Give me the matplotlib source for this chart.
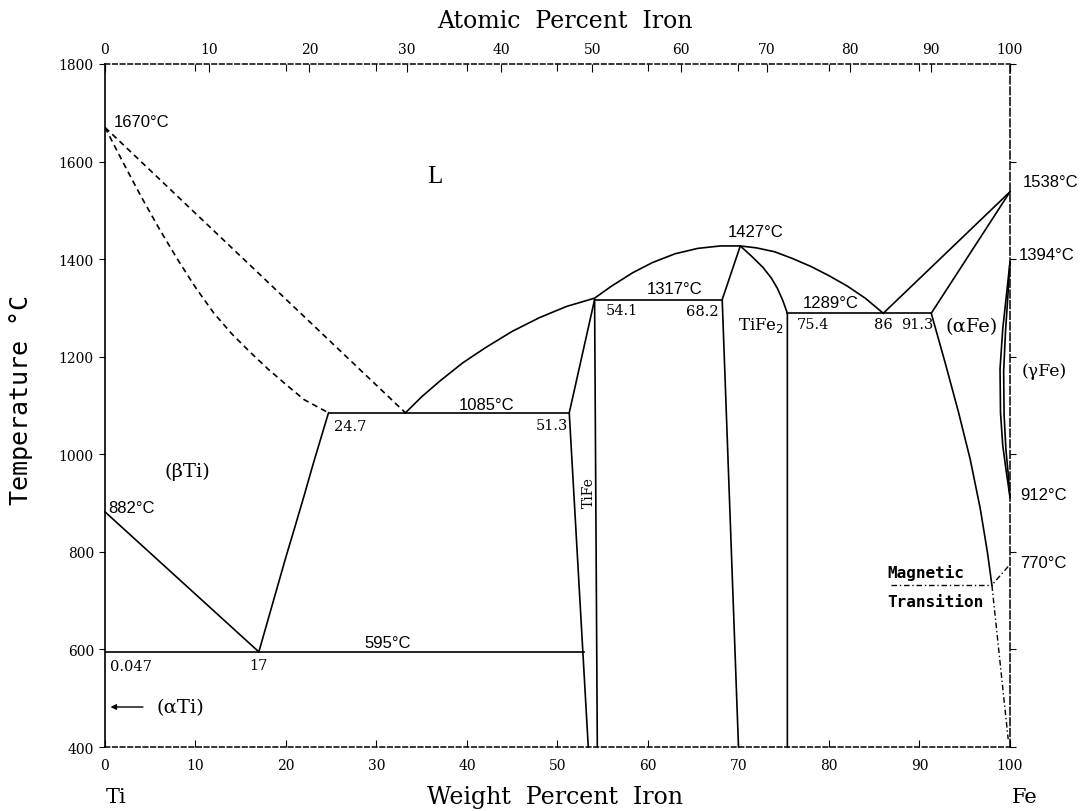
import numpy as np
import matplotlib.pyplot as plt

# Ti-Fe phase diagram, x = weight percent Fe, y = temperature (deg C)
liq_ti_x = [0, 33.2]
liq_ti_t = [1670, 1085]
sol_ti_x = [0, 2, 4, 6, 8, 10, 12, 14, 16, 18, 20, 22, 24.7]
sol_ti_t = [1670, 1598, 1528, 1462, 1400, 1342, 1290, 1247, 1210, 1175, 1143, 1112, 1085]
beta_solvus_x = [17, 18, 19, 20, 21, 22, 23, 24, 24.7]
beta_solvus_t = [595, 660, 725, 790, 852, 915, 980, 1042, 1085]
alpha_beta_x = [0, 17]
alpha_beta_t = [882, 595]
liq_mid_x = [33.2, 35, 37, 39.5, 42, 45, 48, 51, 54.1, 56, 58.3, 60.5, 63, 65.5, 68, 70.2,
             72, 74, 76, 78, 80, 82, 84, 86]
liq_mid_t = [1085, 1118, 1150, 1187, 1218, 1252, 1280, 1303, 1320, 1345, 1372, 1393, 1411, 1422,
             1427, 1427, 1423, 1415, 1401, 1385, 1366, 1345, 1320, 1289]
tife_left_x = [53.4, 51.3, 54.1]
tife_left_t = [400, 1085, 1317]
tife_right_x = [54.1, 54.4]
tife_right_t = [1317, 400]
tife2_left_x = [70.0, 68.2, 70.2]
tife2_left_t = [400, 1317, 1427]
tife2_right_x = [70.2, 71.5, 72.7, 73.6, 74.3, 74.9, 75.4, 75.4]
tife2_right_t = [1427, 1405, 1383, 1362, 1340, 1315, 1289, 400]
liq_fe_x = [86, 100]
liq_fe_t = [1289, 1538]
sol_fe_x = [91.3, 100]
sol_fe_t = [1289, 1538]
solvus_fe_x = [91.3, 92.8, 94.3, 95.6, 96.7, 97.5, 98.0]
solvus_fe_t = [1289, 1190, 1087, 990, 890, 800, 732]
gamma_out_x = [100, 99.6, 99.2, 98.9, 98.95, 99.2, 99.6, 100]
gamma_out_t = [1394, 1325, 1257, 1175, 1086, 1018, 963, 912]
gamma_in_x = [100, 99.75, 99.5, 99.3, 99.35, 99.55, 99.8, 100]
gamma_in_t = [1394, 1320, 1250, 1170, 1080, 1010, 960, 912]
magnetic_x = [99.8, 98.0, 99.8]
magnetic_t = [770, 732, 416]
magnetic_key_x = [86.8, 98.0]
magnetic_key_t = [732, 732]

# invariant isotherms: (temperature, x start, x end)
isotherms = [(1085, 24.7, 51.3), (1317, 54.1, 68.2), (1289, 75.4, 91.3), (595, 0.047, 52.9)]

y_ticks = [400, 600, 800, 1000, 1200, 1400, 1600, 1800]
x_ticks = [0, 10, 20, 30, 40, 50, 60, 70, 80, 90, 100]
at_ticks = [0, 10, 20, 30, 40, 50, 60, 70, 80, 90, 100]

M_FE, M_TI = 55.845, 47.867


def at2wt(a):
    a = np.asarray(a, float)
    with np.errstate(divide='ignore', invalid='ignore'):
        return 100 * a * M_FE / (a * M_FE + (100 - a) * M_TI)


def wt2at(w):
    w = np.asarray(w, float)
    with np.errstate(divide='ignore', invalid='ignore'):
        return 100 * (w / M_FE) / (w / M_FE + (100 - w) / M_TI)


fig = plt.figure(figsize=(10.88, 8.12), dpi=100)
ax = fig.add_axes([0.0965, 0.0788, 0.8318, 0.8412])
ax.set_xlim(0, 100)
ax.set_ylim(400, 1800)

lw = 1.2
dash = (0, (3.5, 2.5))
ax.plot(liq_ti_x, liq_ti_t, color='k', lw=lw, ls=dash)
ax.plot(sol_ti_x, sol_ti_t, color='k', lw=lw, ls=dash)
for xs, ts in [(beta_solvus_x, beta_solvus_t), (alpha_beta_x, alpha_beta_t),
               (liq_mid_x, liq_mid_t), (tife_left_x, tife_left_t),
               (tife_right_x, tife_right_t), (tife2_left_x, tife2_left_t),
               (tife2_right_x, tife2_right_t), (liq_fe_x, liq_fe_t),
               (sol_fe_x, sol_fe_t), (solvus_fe_x, solvus_fe_t),
               (gamma_out_x, gamma_out_t), (gamma_in_x, gamma_in_t)]:
    ax.plot(xs, ts, color='k', lw=lw, clip_on=False)
for t, x0, x1 in isotherms:
    ax.plot([x0, x1], [t, t], color='k', lw=lw)
ax.plot(magnetic_x, magnetic_t, color='k', lw=1.0, ls=(0, (4, 2, 1, 2)), clip_on=False)
ax.plot(magnetic_key_x, magnetic_key_t, color='k', lw=1.0, ls=(0, (4, 2, 1, 2)))

# labels
sans = 'Liberation Sans'
serif = 'DejaVu Serif'
def lab(x, t, s, ha='left', fam=sans, size=12, **kw):
    ax.text(x, t, s, ha=ha, va='center', family=fam, fontsize=size, clip_on=False, **kw)

lab(1.0, 1683, '1670°C')
lab(0.4, 890, '882°C')
lab(31.2, 615, '595°C', ha='center')
lab(42.2, 1103, '1085°C', ha='center')
lab(62.9, 1339, '1317°C', ha='center')
lab(71.9, 1456, '1427°C', ha='center')
lab(80.2, 1312, '1289°C', ha='center')
lab(101.4, 1560, '1538°C')
lab(101.0, 1410, '1394°C')
lab(101.1, 918, '912°C')
lab(101.1, 779, '770°C')

lab(25.3, 1058, '24.7', fam=serif, size=10.5)
lab(51.2, 1060, '51.3', ha='right', fam=serif, size=10.5)
lab(55.3, 1296, '54.1', fam=serif, size=10.5)
lab(67.8, 1294, '68.2', ha='right', fam=serif, size=10.5)
lab(76.4, 1267, '75.4', fam=serif, size=10.5)
lab(86.0, 1267, '86', ha='center', fam=serif, size=10.5)
lab(89.8, 1267, '91.3', ha='center', fam=serif, size=10.5)
lab(0.6, 566, '0.047', fam=serif, size=10.5)
lab(17.0, 568, '17', ha='center', fam=serif, size=10.5)

lab(36.5, 1570, 'L', ha='center', fam='Liberation Serif', size=18)
lab(6.6, 966, '(βTi)', fam=serif, size=14)
lab(5.7, 482, '(αTi)', fam=serif, size=14)
lab(95.8, 1263, '(αFe)', ha='center', fam=serif, size=14)
lab(103.8, 1171, '(γFe)', ha='center', fam=serif, size=12.5)
lab(72.5, 1267, 'TiFe$_2$', ha='center', fam=serif, size=12)
lab(53.5, 923, 'TiFe', ha='center', fam=serif, size=10, rotation=90)
lab(86.4, 759, 'Magnetic', fam='DejaVu Sans Mono', size=11.5, fontweight='bold')
lab(86.4, 699, 'Transition', fam='DejaVu Sans Mono', size=11.5, fontweight='bold')
ax.annotate('', xy=(0.3, 482), xytext=(4.5, 482),
            arrowprops=dict(arrowstyle='-|>', color='k', lw=1.0, mutation_scale=8))

# axes styling
ax.spines['left'].set_linewidth(1.2)
ax.spines['bottom'].set_linestyle((0, (3, 2)))
ax.spines['top'].set_linestyle((0, (3, 2)))
ax.spines['right'].set_linestyle((0, (5, 2)))
for s in ['bottom', 'top', 'right']:
    ax.spines[s].set_linewidth(1.1)

ax.set_xticks(x_ticks)
ax.set_yticks(y_ticks)
ax.tick_params(axis='x', direction='in', length=5, top=True, labeltop=False, pad=8)
ax.tick_params(axis='y', direction='out', length=4, right=True, labelright=False, pad=4)
for t in ax.get_xticklabels() + ax.get_yticklabels():
    t.set_family(serif)
    t.set_fontsize(10)

secax = ax.secondary_xaxis('top', functions=(wt2at, at2wt))
secax.set_xticks(at_ticks)
secax.tick_params(direction='in', length=6, pad=6)
secax.spines['top'].set_visible(False)
for t in secax.get_xticklabels():
    t.set_family(serif)
    t.set_fontsize(10)

fig.text(0.519, 0.973, 'Atomic  Percent  Iron', ha='center', va='center',
         family=serif, fontsize=17)
fig.text(0.510, 0.018, 'Weight  Percent  Iron', ha='center', va='center',
         family=serif, fontsize=17)
fig.text(0.107, 0.018, 'Ti', ha='center', va='center', family=serif, fontsize=15)
fig.text(0.942, 0.018, 'Fe', ha='center', va='center', family=serif, fontsize=15)
fig.text(0.019, 0.507, 'Temperature °C', ha='center', va='center', rotation=90,
         family='DejaVu Sans Mono', fontsize=18)

fig.savefig('out.png', dpi=100)
